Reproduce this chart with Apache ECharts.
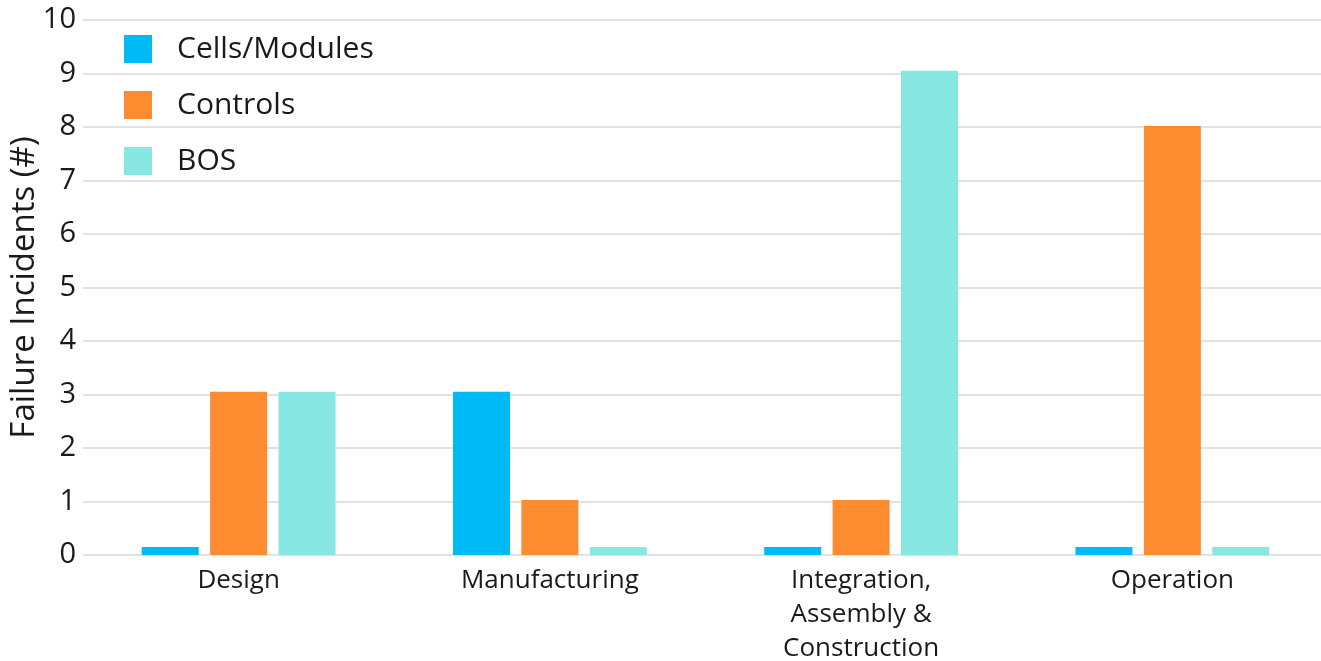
<!DOCTYPE html>
<html><head><meta charset="utf-8">
<script src="https://cdn.jsdelivr.net/npm/echarts@6/dist/echarts.min.js"></script>
<style>html,body{margin:0;padding:0;background:#fff;overflow:hidden}#c{width:1321px;height:661px}</style>
</head><body><div id="c"></div>
<script>
const categories = ["Design", "Manufacturing", "Integration,\nAssembly &\nConstruction", "Operation"];
const cellsModules = [0.15, 3.05, 0.15, 0.15];
const controls = [3.05, 1.03, 1.03, 8.02];
const bos = [3.05, 0.15, 9.05, 0.15];
const yTicks = [0, 1, 2, 3, 4, 5, 6, 7, 8, 9, 10];

const font = "'Open Sans', Lato, sans-serif";
const chart = echarts.init(document.getElementById('c'));
chart.setOption({
  animation: false,
  textStyle: { fontFamily: font },
  legend: {
    orient: 'vertical', left: 119, top: 29,
    itemWidth: 28, itemHeight: 28, itemGap: 26,
    icon: 'rect',
    textStyle: { fontSize: 30, color: '#1a1a1a', fontFamily: font, padding: [0, 0, 0, 20] },
    data: ['Cells/Modules', 'Controls', 'BOS']
  },
  grid: { left: 83, right: -7, top: 20, bottom: 106, containLabel: false, outerBoundsMode: 'none' },
  xAxis: {
    type: 'category', data: categories,
    axisLine: { show: false }, axisTick: { show: false },
    axisLabel: { fontSize: 26, color: '#1a1a1a', margin: 9, lineHeight: 34, fontFamily: font, interval: 0 }
  },
  yAxis: {
    type: 'value', min: yTicks[0], max: yTicks[yTicks.length - 1], interval: 1,
    name: 'Failure Incidents (#)', nameLocation: 'middle', nameGap: 42, nameMoveOverlap: false,
    nameTextStyle: { fontSize: 33, color: '#1a1a1a', fontFamily: font },
    axisLine: { show: false }, axisTick: { show: false },
    axisLabel: { fontSize: 29, color: '#1a1a1a', margin: 7, fontFamily: font },
    splitLine: { lineStyle: { color: '#e2e2e2', width: 2 } }
  },
  series: [
    { name: 'Cells/Modules', type: 'bar', data: cellsModules, barWidth: 57, barGap: '20%', itemStyle: { color: '#00BAF5' } },
    { name: 'Controls', type: 'bar', data: controls, barWidth: 57, barGap: '20%', itemStyle: { color: '#FD8C30' } },
    { name: 'BOS', type: 'bar', data: bos, barWidth: 57, barGap: '20%', itemStyle: { color: '#86E7E3' } }
  ]
});
</script></body></html>
